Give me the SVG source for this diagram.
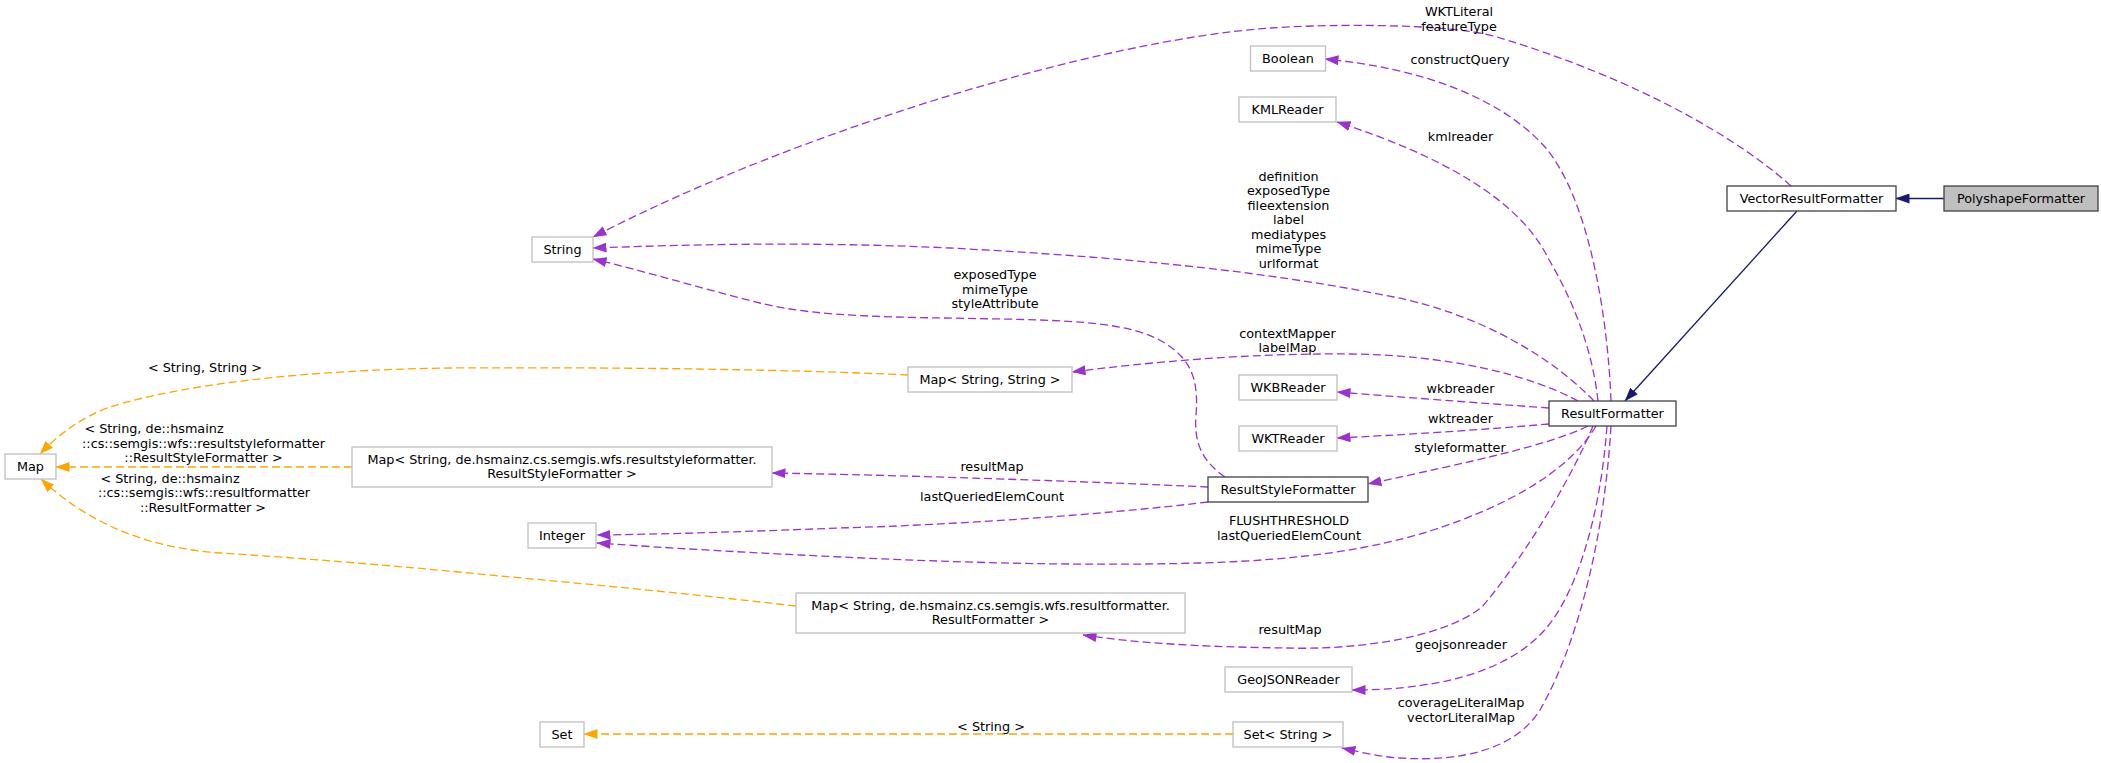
<svg xmlns="http://www.w3.org/2000/svg" width="2101" height="763" viewBox="0 0 2101 763">
<style>
text{font-family:"DejaVu Sans","Liberation Sans",sans-serif;font-size:12.8px;text-anchor:middle;fill:#000}
.n rect{fill:#fff;stroke:#bfbfbf;stroke-width:1.3}
.n.k rect{stroke:#404040}
.n.cur rect{fill:#bfbfbf;stroke:#404040}
.e{fill:none;stroke-width:1.3;stroke-dasharray:8,4}
.p{stroke:#9a32cd}
.o{stroke:#ffa500}
.b{stroke:#191970;stroke-dasharray:none}
</style>
<defs>
<marker id="ap" markerUnits="userSpaceOnUse" markerWidth="14" markerHeight="10" viewBox="0 0 14 10" refX="13.5" refY="5" orient="auto"><path d="M0,0 L14,5 L0,10 z" fill="#9a32cd"/></marker>
<marker id="ao" markerUnits="userSpaceOnUse" markerWidth="14" markerHeight="10" viewBox="0 0 14 10" refX="13.5" refY="5" orient="auto"><path d="M0,0 L14,5 L0,10 z" fill="#ffa500"/></marker>
<marker id="ab" markerUnits="userSpaceOnUse" markerWidth="14" markerHeight="10" viewBox="0 0 14 10" refX="13.5" refY="5" orient="auto"><path d="M0,0 L14,5 L0,10 z" fill="#191970"/></marker>
</defs>
<rect width="2101" height="763" fill="#fff"/>
<g id="connectors">
<path class="e b" d="M1944,198.5 L1896,198.5" marker-end="url(#ab)"/>
<path class="e b" d="M1797,211 L1625,401" marker-end="url(#ab)"/>
<path class="e p" d="M1791,186 C1740,140 1640,80 1497,37 C1450,23 1330,24 1270,28 C1100,40 800,130 593,237" marker-end="url(#ap)"/>
<path class="e p" d="M1611,401 C1608,320 1590,200 1545,147 C1500,97 1420,68 1325,59" marker-end="url(#ap)"/>
<path class="e p" d="M1598,401 C1592,345 1570,295 1548,258 C1520,200 1440,155 1337,122" marker-end="url(#ap)"/>
<path class="e p" d="M1594,401 C1540,345 1460,310 1394,297 C1250,268 1100,256 950,248 C800,241 680,245 593,248" marker-end="url(#ap)"/>
<path class="e p" d="M1225,477 C1200,460 1194,440 1196,415 C1198,390 1195,370 1180,355 C1150,325 1100,321 1002,319 C900,317 820,318 760,303 C700,288 640,270 593,259" marker-end="url(#ap)"/>
<path class="e p" d="M1578,401 C1530,375 1450,355 1350,354 C1250,353 1150,362 1072,372" marker-end="url(#ap)"/>
<path class="e p" d="M1549,408 C1480,403 1400,397 1337,392" marker-end="url(#ap)"/>
<path class="e p" d="M1549,424 C1480,430 1400,435 1337,438" marker-end="url(#ap)"/>
<path class="e p" d="M1588,426 C1550,445 1470,462 1368,484" marker-end="url(#ap)"/>
<path class="e p" d="M1596,426 C1570,470 1510,505 1433,530 C1370,550 1300,560 1200,563 C1050,567 900,560 800,555 C700,550 640,546 597,543" marker-end="url(#ap)"/>
<path class="e p" d="M1208,502 C1100,515 950,525 840,528 C760,531 680,534 597,535" marker-end="url(#ap)"/>
<path class="e p" d="M1208,487 C1100,482 900,475 772,473" marker-end="url(#ap)"/>
<path class="e p" d="M1593,426 C1575,470 1530,550 1482,607 C1440,640 1350,650 1286,648 C1220,647 1150,645 1083,635" marker-end="url(#ap)"/>
<path class="e p" d="M1607,426 C1600,520 1575,600 1540,635 C1500,675 1430,690 1352,690" marker-end="url(#ap)"/>
<path class="e p" d="M1611,426 C1605,530 1580,640 1540,710 C1515,750 1460,762 1400,758 C1380,757 1360,752 1342,748" marker-end="url(#ap)"/>
<path class="e o" d="M908,375 C800,370 650,367 450,368 C300,370 180,385 110,407 C80,418 58,435 40,454" marker-end="url(#ao)"/>
<path class="e o" d="M352,467 L56,467" marker-end="url(#ao)"/>
<path class="e o" d="M796,606 C700,595 600,585 500,576 C400,566 300,558 220,553 C150,548 90,525 41,479" marker-end="url(#ao)"/>
<path class="e o" d="M1233,734 L584,734" marker-end="url(#ao)"/>
<g id="edge-labels">
<text x="1459" y="16">WKTLiteral</text>
<text x="1459" y="31">featureType</text>
<text x="1460" y="63.5">constructQuery</text>
<text x="1460.5" y="141">kmlreader</text>
<text x="1288.5" y="180.5">definition</text>
<text x="1288.5" y="195">exposedType</text>
<text x="1288.5" y="209.5">fileextension</text>
<text x="1288.5" y="224">label</text>
<text x="1288.5" y="238.5">mediatypes</text>
<text x="1288.5" y="253">mimeType</text>
<text x="1288.5" y="267.5">urlformat</text>
<text x="995" y="279">exposedType</text>
<text x="995" y="293.5">mimeType</text>
<text x="995" y="308">styleAttribute</text>
<text x="1287.5" y="337.5">contextMapper</text>
<text x="1287.5" y="352">labelMap</text>
<text x="1460.5" y="393">wkbreader</text>
<text x="1460.5" y="423">wktreader</text>
<text x="1460" y="452">styleformatter</text>
<text x="992" y="471">resultMap</text>
<text x="992" y="500.5">lastQueriedElemCount</text>
<text x="1289" y="525">FLUSHTHRESHOLD</text>
<text x="1289" y="539.5">lastQueriedElemCount</text>
<text x="1290" y="634">resultMap</text>
<text x="1461" y="648.5">geojsonreader</text>
<text x="1461" y="707">coverageLiteralMap</text>
<text x="1461" y="721.5">vectorLiteralMap</text>
<text x="991" y="731">&lt; String &gt;</text>
<text x="205" y="372">&lt; String, String &gt;</text>
<text x="154" y="433">&lt; String, de::hsmainz</text>
<text x="203.5" y="447.5">::cs::semgis::wfs::resultstyleformatter</text>
<text x="203.5" y="462">::ResultStyleFormatter &gt;</text>
<text x="170" y="483">&lt; String, de::hsmainz</text>
<text x="204" y="497">::cs::semgis::wfs::resultformatter</text>
<text x="203" y="512">::ResultFormatter &gt;</text>
</g>
</g>
<g id="PolyshapeFormatter" class="n cur"><rect x="1944" y="186" width="154" height="25"/><text x="2021" y="203">PolyshapeFormatter</text></g>
<g id="VectorResultFormatter" class="n k"><rect x="1727" y="186" width="169" height="25"/><text x="1811.5" y="203">VectorResultFormatter</text></g>
<g id="ResultFormatter" class="n k"><rect x="1549" y="401" width="127" height="25"/><text x="1612.5" y="418">ResultFormatter</text></g>
<g id="String" class="n"><rect x="532" y="237" width="61" height="25"/><text x="562.5" y="254">String</text></g>
<g id="Boolean" class="n"><rect x="1250.5" y="46" width="75" height="25"/><text x="1288" y="63">Boolean</text></g>
<g id="KMLReader" class="n"><rect x="1239" y="97" width="97" height="25"/><text x="1287.5" y="114">KMLReader</text></g>
<g id="WKBReader" class="n"><rect x="1239" y="375" width="98" height="25"/><text x="1288" y="392">WKBReader</text></g>
<g id="WKTReader" class="n"><rect x="1239" y="426" width="98" height="25"/><text x="1288" y="443">WKTReader</text></g>
<g id="ResultStyleFormatter" class="n k"><rect x="1208" y="477" width="160" height="25"/><text x="1288" y="494">ResultStyleFormatter</text></g>
<g id="MapStringString" class="n"><rect x="908" y="367" width="164" height="25"/><text x="990" y="384">Map&lt; String, String &gt;</text></g>
<g id="MapResultStyleFormatter" class="n"><rect x="352" y="447" width="420" height="40"/><text x="562" y="463.5">Map&lt; String, de.hsmainz.cs.semgis.wfs.resultstyleformatter.</text><text x="562" y="478">ResultStyleFormatter &gt;</text></g>
<g id="Integer" class="n"><rect x="528" y="523" width="68" height="25"/><text x="562" y="540">Integer</text></g>
<g id="MapResultFormatter" class="n"><rect x="796" y="593" width="389" height="40"/><text x="990.5" y="609.5">Map&lt; String, de.hsmainz.cs.semgis.wfs.resultformatter.</text><text x="990.5" y="624">ResultFormatter &gt;</text></g>
<g id="GeoJSONReader" class="n"><rect x="1225" y="667" width="127" height="25"/><text x="1288.5" y="684">GeoJSONReader</text></g>
<g id="SetString" class="n"><rect x="1233" y="722" width="110" height="25"/><text x="1288" y="739">Set&lt; String &gt;</text></g>
<g id="Set" class="n"><rect x="540" y="722" width="44" height="25"/><text x="562" y="739">Set</text></g>
<g id="Map" class="n"><rect x="5" y="454" width="51" height="25"/><text x="30.5" y="471">Map</text></g>
</svg>
